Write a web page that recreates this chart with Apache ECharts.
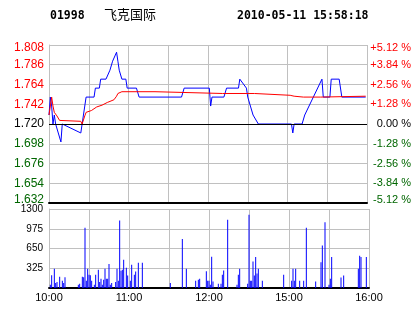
<!DOCTYPE html>
<html>
<head>
<meta charset="utf-8">
<script src="https://cdn.jsdelivr.net/npm/echarts@6/dist/echarts.min.js"></script>
<style>
html,body{margin:0;padding:0;background:#fff;}
#c{width:414px;height:314px;}
</style>
</head>
<body>
<div id="c"></div>
<script>
// ---- data ----
const stockCode = '01998';
const stockName = '飞克国际';
const stampText = '2010-05-11 15:58:18';
const prevClose = 1.72;

const xTickLabels = ['10:00','10:30','11:00','11:30','12:00','14:30','15:00','15:30','16:00'];
const xShownLabels = ['10:00','11:00','12:00','15:00','16:00'];

const priceTimes = ['10:00','10:01','10:02','10:03','10:04','10:05','10:07','10:09','10:10','10:11',
  '10:24','10:25','10:26','10:27','10:28','10:34','10:35','10:38','10:39','10:43',
  '10:46','10:48','10:51','10:52','10:53','10:55','10:58','10:59','11:06','11:08',
  '11:40','11:42','12:01','12:02','12:03','12:12','12:14','12:23','12:24','12:29',
  '14:30','14:32','14:34','14:38','15:03','15:04','15:05','15:11','15:13','15:26',
  '15:27','15:32','15:33','15:39','15:41','15:59'];
const prices = [1.73,1.75,1.74,1.72,1.73,1.72,1.71,1.70,1.72,1.72,
  1.71,1.71,1.73,1.74,1.75,1.75,1.76,1.76,1.77,1.77,
  1.78,1.79,1.80,1.79,1.78,1.77,1.77,1.76,1.76,1.75,
  1.75,1.76,1.76,1.74,1.75,1.75,1.76,1.76,1.77,1.76,
  1.75,1.74,1.73,1.72,1.72,1.71,1.72,1.72,1.73,1.77,
  1.75,1.75,1.77,1.77,1.75,1.75];

const avgTimes = ['10:00','10:01','10:02','10:03','10:04','10:06','10:08','10:24','10:25','10:27',
  '10:28','10:32','10:36','10:40','10:44','10:45','10:49','10:51','10:52','10:55',
  '11:20','11:21','12:11','14:35','14:36','15:02','15:05','15:12','15:25','15:26','15:59'];
const avgPrices = [1.730,1.731,1.750,1.740,1.733,1.729,1.724,1.723,1.720,1.729,
  1.733,1.735,1.739,1.741,1.744,1.745,1.747,1.751,1.754,1.756,
  1.756,1.755,1.754,1.754,1.752,1.752,1.751,1.750,1.750,1.751,1.751];

const volTimes = ['10:01','10:02','10:04','10:05','10:06','10:08','10:10','10:11','10:12','10:22',
  '10:23','10:25','10:26','10:27','10:28','10:29','10:30','10:31','10:32','10:34',
  '10:35','10:37','10:38','10:39','10:40','10:41','10:42','10:43','10:44','10:45',
  '10:46','10:47','10:50','10:51','10:52','10:53','10:54','10:55','10:56','10:58',
  '10:59','11:01','11:02','11:04','11:05','11:07','11:10','11:31','11:40','11:43',
  '11:50','11:52','11:53','11:58','11:59','12:00','12:01','12:02','12:03','12:07',
  '12:09','12:10','12:11','12:14','12:21','12:22','12:23','12:29','14:30','14:31',
  '14:32','14:33','14:34','14:35','14:36','14:37','14:40','14:56','15:02','15:03',
  '15:04','15:05','15:08','15:11','15:13','15:20','15:24','15:25','15:27','15:30',
  '15:31','15:32','15:39','15:41','15:52','15:53','15:54','15:58'];
const volumes = [55,208,318,82,99,187,121,82,175,55,
  71,187,175,990,121,318,219,208,121,55,
  219,302,99,154,55,137,318,154,154,395,
  55,82,99,318,121,1110,285,302,466,335,
  205,121,384,216,271,415,415,82,805,318,
  121,137,154,274,121,121,55,515,107,71,
  71,219,288,1124,55,219,318,71,1207,121,
  121,436,205,512,238,318,121,219,121,318,
  121,318,121,121,990,107,422,700,1080,55,
  154,512,172,205,318,532,512,512];

// ---- helpers ----
function toMin(t){
  const p = t.split(':').map(Number);
  const v = p[0]*60 + p[1];
  return v >= 14*60+30 ? 150 + (v - (14*60+30)) : v - 600;
}
function pct(p){ return (p - prevClose) / prevClose * 100; }

const RED = '#ff0000', GREEN = '#006600', BLUE = '#0000ff', GRID = '#c0c0c0';
const sideColor = v => { v = Number(v); return v > 1e-9 ? RED : (v < -1e-9 ? GREEN : '#000'); };

const chart = echarts.init(document.getElementById('c'), null, {renderer:'canvas'});
const xBase = {
  type:'value', min:0, max:240, interval:30,
  axisTick:{show:false},
  axisLine:{show:true, onZero:false, lineStyle:{color:'#000', width:2}},
  splitLine:{show:true, lineStyle:{color:GRID, width:1}}
};
chart.setOption({
  animation:false,
  backgroundColor:'#fff',
  graphic:[
    {type:'text', left:50, top:10, style:{text:stockCode, fill:'#000', font:'bold 11.5px "DejaVu Sans Mono"'}},
    {type:'text', left:104, top:8, style:{text:stockName, fill:'#000', font:'13px "Noto Sans CJK SC"'}},
    {type:'text', left:237, top:10, style:{text:stampText, fill:'#000', font:'bold 11.5px "DejaVu Sans Mono"'}}
  ],
  grid:[
    {left:49, top:45, width:320, height:158},
    {left:49, top:209, width:320, height:79}
  ],
  xAxis:[
    Object.assign({gridIndex:0, axisLabel:{show:false}}, xBase),
    Object.assign({gridIndex:1, axisLabel:{show:true, color:'#000', fontSize:11, fontFamily:'Liberation Sans', margin:4,
      formatter:function(v){ const l = xTickLabels[Math.round(v/30)]; return xShownLabels.indexOf(l) >= 0 ? l : ''; }}}, xBase)
  ],
  yAxis:[
    {gridIndex:0, type:'value', min:-5.12, max:5.12, interval:1.28,
     axisLine:{show:true, lineStyle:{color:GRID}}, axisTick:{show:false},
     splitLine:{show:true, lineStyle:{color:GRID, width:1}},
     axisLabel:{fontSize:12, fontFamily:'Liberation Sans', margin:5, color:sideColor,
       formatter:function(v){ const s = (prevClose*(1+v/100)).toFixed(3);
         if (v > 5) return '{t|'+s+'}'; if (v < -5) return '{b|'+s+'}'; return s; },
       rich:{t:{padding:[6,0,0,0]}, b:{padding:[0,0,6,0]}}}},
    {gridIndex:0, type:'value', position:'right', min:-5.12, max:5.12, interval:1.28,
     axisLine:{show:false}, axisTick:{show:false}, splitLine:{show:false},
     axisLabel:{fontSize:11, fontFamily:'Liberation Sans', margin:44, align:'right', color:sideColor,
       formatter:function(v){ const s = (v > 1e-9 ? '+' : (v < -1e-9 ? '-' : '')) + Math.abs(v).toFixed(2) + ' %';
         if (v > 5) return '{t|'+s+'}'; if (v < -5) return '{b|'+s+'}'; return s; },
       rich:{t:{padding:[6,0,0,0]}, b:{padding:[0,0,6,0]}}}},
    {gridIndex:1, type:'value', min:0, max:1300, interval:325,
     axisLine:{show:true, lineStyle:{color:GRID}}, axisTick:{show:false},
     splitLine:{show:true, lineStyle:{color:GRID, width:1}},
     axisLabel:{fontSize:10, fontFamily:'Liberation Sans', margin:6, color:'#000', padding:[6,0,0,0],
       formatter:function(v){ return v === 0 ? '' : String(v); }}}
  ],
  series:[
    {type:'line', xAxisIndex:0, yAxisIndex:0, symbol:'none', silent:true,
     lineStyle:{color:BLUE, width:1}, itemStyle:{color:BLUE},
     data: priceTimes.map((t,i)=>[toMin(t), pct(prices[i])]),
     markLine:{silent:true, symbol:'none', label:{show:false}, lineStyle:{color:'#000', width:1, type:'solid'}, data:[{yAxis:0}]}},
    {type:'line', xAxisIndex:0, yAxisIndex:0, symbol:'none', silent:true,
     lineStyle:{color:RED, width:1}, itemStyle:{color:RED},
     data: avgTimes.map((t,i)=>[toMin(t), pct(avgPrices[i])])},
    {type:'bar', xAxisIndex:1, yAxisIndex:2, barWidth:1, silent:true,
     itemStyle:{color:BLUE},
     data: volTimes.map((t,i)=>[toMin(t), volumes[i]])}
  ]
});
</script>
</body>
</html>
